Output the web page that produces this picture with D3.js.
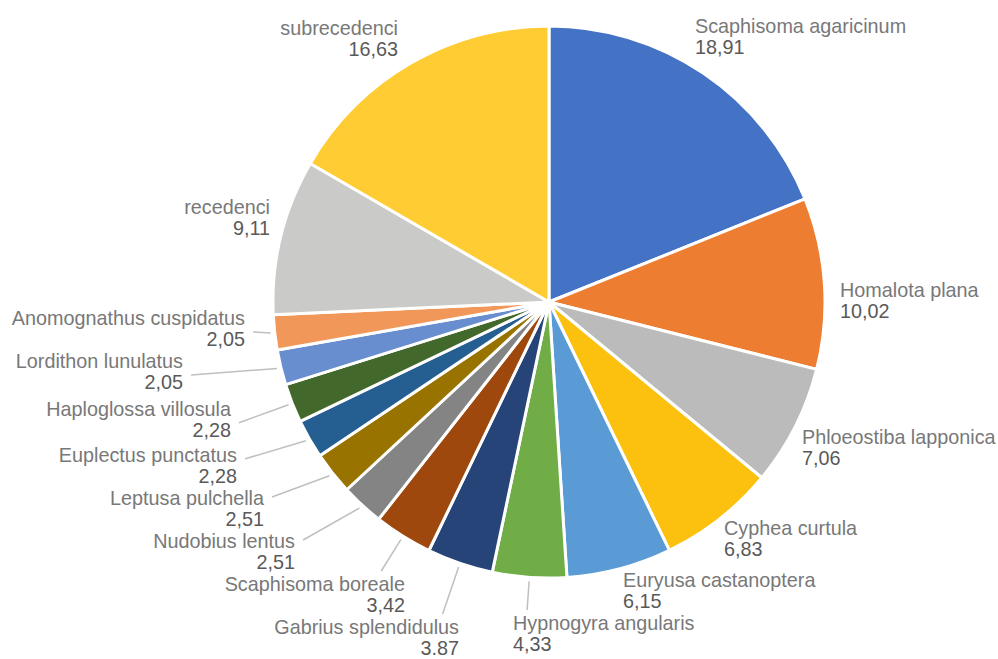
<!DOCTYPE html>
<html>
<head>
<meta charset="utf-8">
<script src="https://cdn.jsdelivr.net/npm/d3@7"></script>
<style>
  html, body { margin: 0; padding: 0; background: #ffffff; }
  svg { display: block; }
</style>
</head>
<body>
<svg id="chart" width="998" height="659"></svg>
<script>
// ---- data ----
const categories = [
  "Scaphisoma agaricinum", "Homalota plana", "Phloeostiba lapponica", "Cyphea curtula",
  "Euryusa castanoptera", "Hypnogyra angularis", "Gabrius splendidulus", "Scaphisoma boreale",
  "Nudobius lentus", "Leptusa pulchella", "Euplectus punctatus", "Haploglossa villosula",
  "Lordithon lunulatus", "Anomognathus cuspidatus", "recedenci", "subrecedenci"
];
const values = [18.91, 10.02, 7.06, 6.83, 6.15, 4.33, 3.87, 3.42, 2.51, 2.51, 2.28, 2.28, 2.05, 2.05, 9.11, 16.63];
const valueLabels = ["18,91", "10,02", "7,06", "6,83", "6,15", "4,33", "3.87", "3,42", "2,51", "2,51", "2,28", "2,28", "2,05", "2,05", "9,11", "16,63"];
const colors = [
  "#4472C4", "#ED7D31", "#BBBBBB", "#FCC00E", "#5B9BD5", "#70AD47", "#264478", "#9E480E",
  "#848484", "#997300", "#255E91", "#43682B", "#698ED0", "#F1975A", "#CACAC8", "#FFCD33"
];

// ---- layout (label placement: x, name baseline y, anchor, leader) ----
const labelLayout = [
  { x: 695, y: 33,  anchor: "start", leader: false },
  { x: 840, y: 297, anchor: "start", leader: false },
  { x: 802, y: 444, anchor: "start", leader: false },
  { x: 724, y: 535, anchor: "start", leader: false },
  { x: 623, y: 587, anchor: "start", leader: false },
  { x: 513, y: 630, anchor: "start", leader: true },
  { x: 459, y: 634, anchor: "end",   leader: true },
  { x: 405, y: 591, anchor: "end",   leader: true },
  { x: 295, y: 548, anchor: "end",   leader: true },
  { x: 264, y: 505, anchor: "end",   leader: true },
  { x: 237, y: 462, anchor: "end",   leader: true },
  { x: 231, y: 416, anchor: "end",   leader: true },
  { x: 183, y: 368, anchor: "end",   leader: true },
  { x: 245, y: 325, anchor: "end",   leader: true },
  { x: 270, y: 214, anchor: "end",   leader: false },
  { x: 398, y: 35,  anchor: "end",   leader: false }
];

const cx = 549, cy = 302, radius = 276;
const lineGap = 20.5;
const fontSize = 19.8;

const svg = d3.select("#chart");
const g = svg.append("g").attr("transform", `translate(${cx},${cy})`);

const data = categories.map((c, i) => ({ name: c, value: values[i], label: valueLabels[i], color: colors[i], layout: labelLayout[i] }));

const pie = d3.pie().value(d => d.value).sort(null).startAngle(0).endAngle(2 * Math.PI);
const arcs = pie(data);
const arc = d3.arc().innerRadius(0).outerRadius(radius);
const leaderArc = d3.arc().innerRadius(radius + 4).outerRadius(radius + 4);

g.selectAll("path.slice")
  .data(arcs)
  .join("path")
  .attr("class", "slice")
  .attr("d", arc)
  .attr("fill", d => d.data.color)
  .attr("stroke", "#ffffff")
  .attr("stroke-width", 3)
  .attr("stroke-linejoin", "round");

// labels
const labelG = svg.append("g")
  .style("font-family", "'Liberation Sans', Arial, sans-serif")
  .style("font-size", fontSize + "px");

arcs.forEach(a => {
  const L = a.data.layout;
  const t = labelG.append("text")
    .attr("text-anchor", L.anchor);
  t.append("tspan").attr("x", L.x).attr("y", L.y).attr("fill", "#787878").text(a.data.name);
  t.append("tspan").attr("x", L.x).attr("y", L.y + lineGap).attr("fill", "#595959").text(a.data.label);

  if (L.leader) {
    const bb = t.node().getBBox();
    const right = bb.x + bb.width + 8;
    const [sx, sy] = leaderArc.centroid(a);
    const px = cx + sx, py = cy + sy;
    let ex, ey;
    if (L.anchor === "end" && px > right + 10 && py < L.y + 10) {
      // label sits to the side: attach to its right edge near the first line
      ex = right;
      ey = Math.max(L.y - 8, Math.min(L.y + 7, py + 18));
    } else {
      // label sits below: continue radially to just above the label
      const mid = (a.startAngle + a.endAngle) / 2;
      const dx = Math.sin(mid), dy = -Math.cos(mid);
      ey = L.y - 20;
      const tt = (ey - py) / dy;
      ex = Math.max(bb.x, Math.min(bb.x + bb.width, px + dx * tt));
    }
    labelG.insert("line", ":first-child")
      .attr("x1", px).attr("y1", py)
      .attr("x2", ex).attr("y2", ey)
      .attr("stroke", "#BFBFBF")
      .attr("stroke-width", 1.5);
  }
});
</script>
</body>
</html>
